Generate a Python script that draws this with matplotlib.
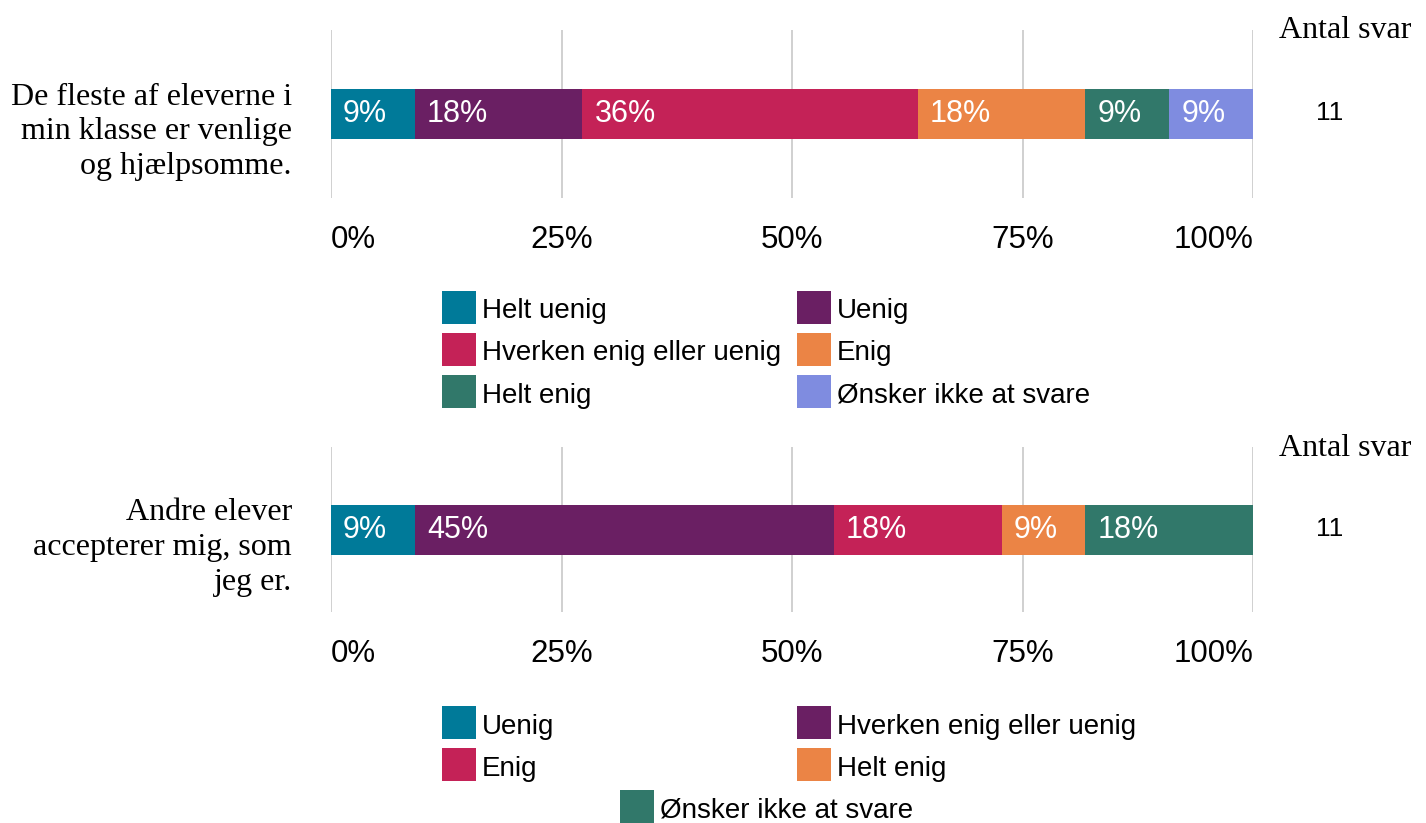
import matplotlib.pyplot as plt
from matplotlib.patches import Rectangle

# figure in pixels
W, H = 1426, 823
SANS = ['Liberation Sans', 'DejaVu Sans']
SERIF = ['Liberation Serif', 'DejaVu Serif']

colors = ['#007A99', '#6A1F63', '#C42257', '#EB8445', '#31786A', '#7F8CE0']

question1 = "De fleste af eleverne i\nmin klasse er venlige\nog hjælpsomme."
cats1 = ['Helt uenig', 'Uenig', 'Hverken enig eller uenig', 'Enig',
         'Helt enig', 'Ønsker ikke at svare']
counts1 = [1, 2, 4, 2, 1, 1]

question2 = "Andre elever\naccepterer mig, som\njeg er."
cats2 = ['Uenig', 'Hverken enig eller uenig', 'Enig', 'Helt enig',
         'Ønsker ikke at svare']
counts2 = [1, 5, 2, 1, 2]

ticks = [0, 25, 50, 75, 100]
tick_labels = ['0%', '25%', '50%', '75%', '100%']

fig = plt.figure(figsize=(W / 100, H / 100), dpi=100)


def fx(px):
    return px / W


def fy(py):
    return 1 - py / H


def draw_block(top, bottom, question, cats, counts, leg_top):
    ax = fig.add_axes([fx(331), fy(bottom), fx(922), (bottom - top) / H])
    total = sum(counts)
    left = 0
    for cat, n, col in zip(cats, counts, colors):
        w = n / total * 100
        ax.barh(0, w, left=left, height=50 / (bottom - top), color=col)
        ax.text(left + 1.3, 0, f"{w:.0f}%", color='white', va='center',
                ha='left', fontsize=22, family=SANS)
        left += w
    ax.set_xlim(0, 100)
    ax.set_ylim(-0.5, 0.5)
    ax.set_yticks([])
    ax.set_xticks(ticks)
    ax.set_xticklabels(tick_labels, fontsize=22.5, family=SANS)
    tl = ax.get_xticklabels()
    tl[0].set_ha('left')
    tl[-1].set_ha('right')
    ax.tick_params(axis='x', length=0, pad=19.5)
    ax.grid(axis='x', color='#C8C8C8', linewidth=1.2)
    ax.set_axisbelow(True)
    for s in ax.spines.values():
        s.set_visible(False)

    center = (top + bottom) / 2 - 1
    fig.text(fx(292), fy(center + 19), question, ha='right', va='center',
             fontsize=23, family=SERIF, linespacing=1.26)
    fig.text(fx(1345), fy(top + 1), 'Antal svar', ha='center', va='center',
             fontsize=23, family=SERIF)
    fig.text(fx(1330), fy(center), str(total), ha='center', va='center',
             fontsize=19, family=SANS)

    # legend: two columns, a lone last entry centred
    for i, (cat, col) in enumerate(zip(cats, colors)):
        row, c = divmod(i, 2)
        if i == len(cats) - 1 and len(cats) % 2 == 1:
            x = 620
        else:
            x = [442, 797][c]
        yc = leg_top + 16.5 + 42 * row
        fig.add_artist(Rectangle((fx(x), fy(yc + 16.5)), fx(34), 33 / H,
                                 transform=fig.transFigure, color=col,
                                 linewidth=0))
        fig.text(fx(x + 40), fy(yc + 4), cat, ha='left', va='center',
                 fontsize=20, family=SANS)


draw_block(30, 198, question1, cats1, counts1, 291)
draw_block(447, 612, question2, cats2, counts2, 706)

fig.savefig('out.png', dpi=100)
